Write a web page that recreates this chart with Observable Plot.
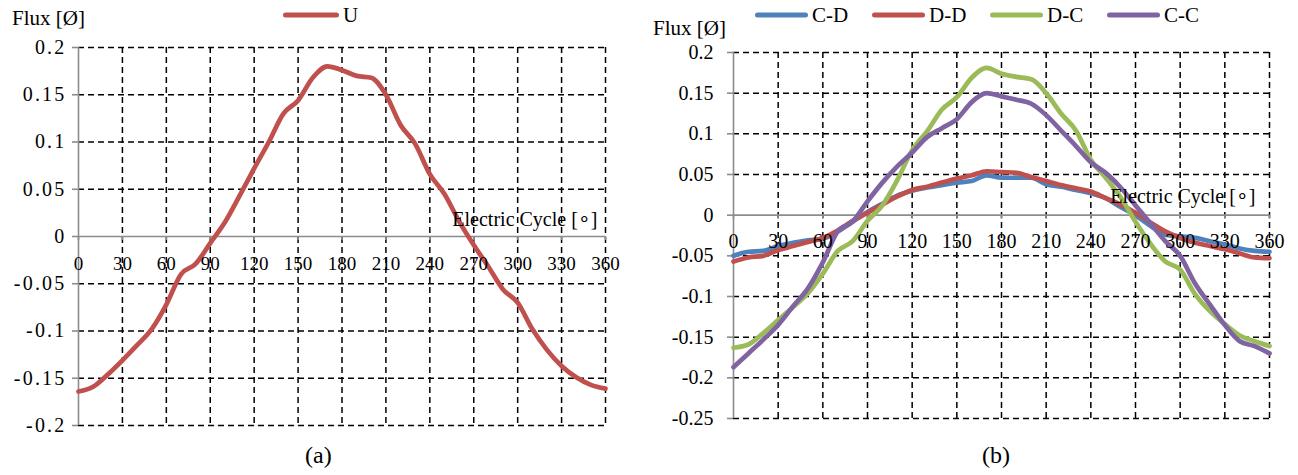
<!DOCTYPE html>
<html>
<head>
<meta charset="utf-8">
<script src="https://cdn.jsdelivr.net/npm/d3@7"></script>
<script src="https://cdn.jsdelivr.net/npm/@observablehq/plot@0.6"></script>
<style>
  html, body { margin: 0; padding: 0; background: #fff; }
  #wrap { position: relative; width: 1298px; height: 475px; overflow: hidden; font-family: 'Liberation Serif', serif; color: #000; }
  #wrap svg { position: absolute; top: 0; }
  #wrap svg text { font-family: 'Liberation Serif', serif; }
  .lbl { position: absolute; font-family: 'Liberation Serif', serif; font-size: 20px; line-height: 1; white-space: nowrap; transform: translateY(-50%); }
  .sw { position: absolute; height: 5px; border-radius: 3px; transform: translateY(-50%); }
</style>
</head>
<body>
<div id="wrap"></div>
<script>
// ---- data ----
const degrees = [0,10,20,30,40,50,60,70,80,90,100,110,120,130,140,150,160,170,180,190,200,210,220,230,240,250,260,270,280,290,300,310,320,330,340,350,360];
const fluxU  = [-0.164,-0.159,-0.146,-0.131,-0.115,-0.098,-0.072,-0.040,-0.029,-0.007,0.015,0.043,0.072,0.100,0.130,0.144,0.168,0.180,0.176,0.170,0.168,0.150,0.118,0.098,0.066,0.045,0.016,-0.009,-0.032,-0.056,-0.070,-0.098,-0.120,-0.137,-0.149,-0.157,-0.161];
const fluxCD = [-0.050,-0.045,-0.044,-0.038,-0.034,-0.031,-0.029,-0.020,-0.008,0.004,0.014,0.024,0.030,0.034,0.037,0.040,0.042,0.049,0.046,0.046,0.046,0.038,0.035,0.031,0.027,0.021,0.010,0.000,-0.013,-0.024,-0.026,-0.028,-0.032,-0.036,-0.041,-0.044,-0.045];
const fluxDD = [-0.057,-0.052,-0.050,-0.043,-0.038,-0.033,-0.028,-0.019,-0.007,0.003,0.013,0.023,0.031,0.035,0.040,0.045,0.049,0.054,0.053,0.052,0.047,0.042,0.037,0.033,0.029,0.021,0.013,0.003,-0.009,-0.020,-0.028,-0.034,-0.038,-0.042,-0.047,-0.052,-0.053];
const fluxDC = [-0.163,-0.159,-0.145,-0.129,-0.113,-0.096,-0.072,-0.044,-0.032,-0.007,0.012,0.043,0.080,0.103,0.130,0.145,0.169,0.181,0.174,0.170,0.167,0.150,0.125,0.104,0.068,0.046,0.022,-0.008,-0.035,-0.057,-0.067,-0.097,-0.118,-0.134,-0.148,-0.155,-0.161];
const fluxCC = [-0.187,-0.170,-0.153,-0.135,-0.112,-0.090,-0.058,-0.020,-0.008,0.017,0.040,0.060,0.077,0.096,0.107,0.118,0.139,0.150,0.146,0.142,0.137,0.123,0.104,0.085,0.065,0.052,0.034,0.012,-0.010,-0.032,-0.050,-0.084,-0.110,-0.135,-0.155,-0.161,-0.170];

const seriesNames  = ["C-D", "D-D", "D-C", "C-C"];
const seriesValues = [fluxCD, fluxDD, fluxDC, fluxCC];
const seriesColors = ["#4F81BD", "#C0504D", "#9BBB59", "#8064A2"];
const colorU = "#C0504D";

const xTicks = [0,30,60,90,120,150,180,210,240,270,300,330,360];
const xTickLabels = ["0","30","60","90","120","150","180","210","240","270","300","330","360"];
const yTicksA = [-0.2,-0.15,-0.1,-0.05,0,0.05,0.1,0.15,0.2];
const yTickLabelsA = ["-0.2","-0.15","-0.1","-0.05","0","0.05","0.1","0.15","0.2"];
const yTicksB = [-0.25,-0.2,-0.15,-0.1,-0.05,0,0.05,0.1,0.15,0.2];
const yTickLabelsB = ["-0.25","-0.2","-0.15","-0.1","-0.05","0","0.05","0.1","0.15","0.2"];
const xTitle = "Electric Cycle [∘]";
const yTitle = "Flux [Ø]";

// ---- helpers ----
const FONT = "Liberation Serif";
const grid = {stroke: "#000", strokeWidth: 1.5, strokeDasharray: "6,4"};
const axisStroke = {stroke: "#8c8c8c", strokeWidth: 1.6};

function panel({width, height, margins, yDomain, yTicks, yLabels, lines, yLabelDx, xLabelDy, xLabelSize, xTitleDx, xTitleDy}) {
  return Plot.plot({
    width, height,
    marginLeft: margins[0], marginRight: margins[1], marginTop: margins[2], marginBottom: margins[3],
    style: {fontFamily: "'Liberation Serif', serif", background: "transparent"},
    x: {domain: [0, 360], axis: null},
    y: {domain: yDomain, axis: null},
    color: {domain: seriesNames.concat(["U"]), range: seriesColors.concat([colorU])},
    marks: [
      Plot.ruleX(xTicks.filter(d => d > 0), {x: d => d, ...grid}),
      Plot.ruleY(yTicks.filter(d => d !== 0), {y: d => d, ...grid}),
      Plot.ruleX([0], {x: d => d, ...axisStroke}),
      Plot.ruleY([0], {y: d => d, ...axisStroke}),
      Plot.ruleX(xTicks, {x: d => d, y1: () => 0, y2: () => 0, insetBottom: -4, ...axisStroke}),
      Plot.ruleY(yTicks, {y: d => d, x1: () => 0, x2: () => 0, insetLeft: -6, ...axisStroke}),
      Plot.line(lines, {x: "deg", y: "v", z: "series", stroke: "series", strokeWidth: 4.7, curve: "monotone-x", strokeLinecap: "round", strokeLinejoin: "round"}),
      Plot.text(yTicks, {x: () => 0, y: d => d, text: (d, i) => yLabels[i], textAnchor: "end", dx: yLabelDx, fontSize: 20, fontFamily: FONT, fill: "#000"}),
      Plot.text(xTicks, {x: d => d, y: () => 0, text: (d, i) => xTickLabels[i], dy: xLabelDy, fontSize: xLabelSize, fontFamily: FONT, fill: "#000"}),
      Plot.text([xTitle], {x: () => 360, y: () => 0, text: d => d, textAnchor: "end", dx: xTitleDx, dy: xTitleDy, fontSize: 20, fontFamily: FONT, fill: "#000"})
    ]
  });
}

const wrap = document.getElementById("wrap");

// left panel (a)
const linesA = degrees.map((d, i) => ({series: "U", deg: d, v: fluxU[i]}));
const svgA = panel({
  width: 640, height: 475, margins: [78, 35, 47, 50],
  yDomain: [-0.2, 0.2], yTicks: yTicksA, yLabels: yTickLabelsA, lines: linesA,
  yLabelDx: -12, xLabelDy: 27, xLabelSize: 19, xTitleDx: -8, xTitleDy: -17
});
svgA.style.left = "0px";
wrap.appendChild(svgA);
// widen left y tick labels (reference renders them stretched)
const textGroupsA = svgA.querySelectorAll('g[aria-label="text"]');
if (textGroupsA.length) textGroupsA[0].setAttribute("letter-spacing", "2.2");

// right panel (b)
const linesB = seriesNames.flatMap((s, k) => degrees.map((d, i) => ({series: s, deg: d, v: seriesValues[k][i]})));
const svgB = panel({
  width: 658, height: 475, margins: [93, 29, 52, 57],
  yDomain: [-0.25, 0.2], yTicks: yTicksB, yLabels: yTickLabelsB, lines: linesB,
  yLabelDx: -20, xLabelDy: 26, xLabelSize: 20, xTitleDx: -14, xTitleDy: -19
});
svgB.style.left = "640px";
wrap.appendChild(svgB);

// ---- HTML annotations: axis titles, legends, captions ----
function label(text, left, cy, size) {
  const el = document.createElement("div");
  el.className = "lbl";
  el.textContent = text;
  el.style.left = left + "px";
  el.style.top = cy + "px";
  if (size) el.style.fontSize = size + "px";
  wrap.appendChild(el);
}
function swatch(color, left, w, cy) {
  const el = document.createElement("div");
  el.className = "sw";
  el.style.background = color;
  el.style.left = left + "px";
  el.style.width = w + "px";
  el.style.top = cy + "px";
  wrap.appendChild(el);
}

label(yTitle, 12, 18, 21);
label(yTitle, 653, 28, 21);

// legend (a)
swatch(colorU, 283, 56, 15);
label("U", 343, 15, 21);

// legend (b)
const legendX = [755, 872, 990, 1107];
seriesNames.forEach((s, k) => {
  swatch(seriesColors[k], legendX[k], 53, 15);
  label(s, legendX[k] + 57, 15, 21);
});

label("(a)", 305, 455, 24);
label("(b)", 982, 455, 24);
</script>
</body>
</html>
